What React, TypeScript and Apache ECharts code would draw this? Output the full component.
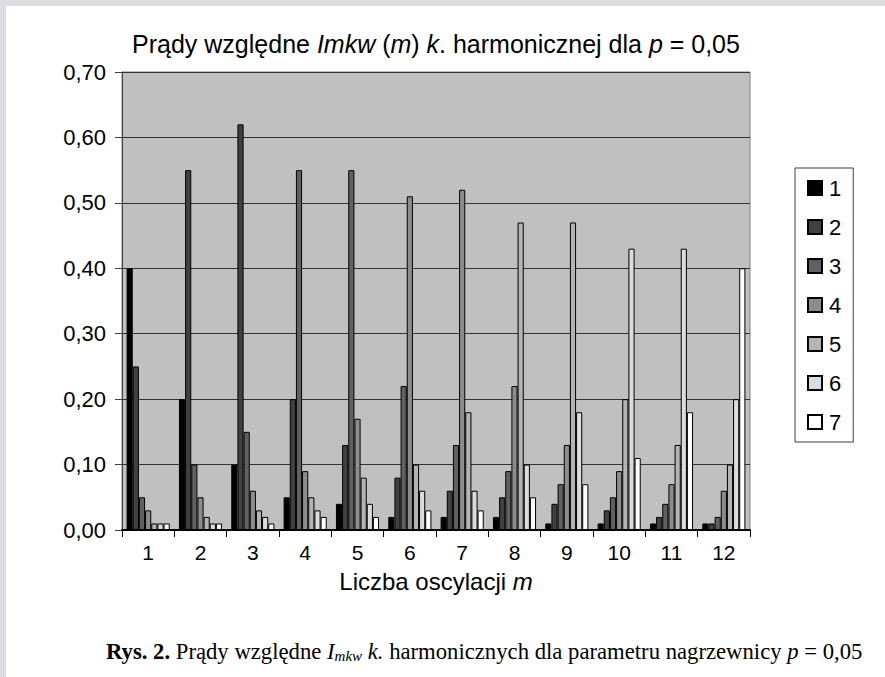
import React, { useEffect, useRef } from "react";
import * as echarts from "echarts";

const categories = ["1", "2", "3", "4", "5", "6", "7", "8", "9", "10", "11", "12"];
const seriesNames = ["1", "2", "3", "4", "5", "6", "7"];
const s1 = [0.40, 0.20, 0.10, 0.05, 0.04, 0.02, 0.02, 0.02, 0.01, 0.01, 0.01, 0.01];
const s2 = [0.25, 0.55, 0.62, 0.20, 0.13, 0.08, 0.06, 0.05, 0.04, 0.03, 0.02, 0.01];
const s3 = [0.05, 0.10, 0.15, 0.55, 0.55, 0.22, 0.13, 0.09, 0.07, 0.05, 0.04, 0.02];
const s4 = [0.03, 0.05, 0.06, 0.09, 0.17, 0.51, 0.52, 0.22, 0.13, 0.09, 0.07, 0.06];
const s5 = [0.01, 0.02, 0.03, 0.05, 0.08, 0.10, 0.18, 0.47, 0.47, 0.20, 0.13, 0.10];
const s6 = [0.01, 0.01, 0.02, 0.03, 0.04, 0.06, 0.06, 0.10, 0.18, 0.43, 0.43, 0.20];
const s7 = [0.01, 0.01, 0.01, 0.02, 0.02, 0.03, 0.03, 0.05, 0.07, 0.11, 0.18, 0.40];
const seriesValues = [s1, s2, s3, s4, s5, s6, s7];
const yTicks = [0, 0.1, 0.2, 0.3, 0.4, 0.5, 0.6, 0.7];
const barColors = ["#000000", "#404040", "#606060", "#8c8c8c", "#b4b4b4", "#dcdcdc", "#ffffff"];

const SANS = "'Liberation Sans', Arial, sans-serif";
const SERIF = "'Liberation Serif', 'Times New Roman', serif";

export default function App() {
  const ref = useRef<HTMLDivElement>(null);
  useEffect(() => {
    document.body.style.margin = "0";
    if (!ref.current) return;
    const chart = echarts.init(ref.current, undefined, { renderer: "svg" });
    chart.setOption({
      animation: false,
      backgroundColor: "#dcdde0",
      grid: {
        left: 122,
        top: 72,
        right: 135,
        bottom: 147,
        show: true,
        backgroundColor: "#c0c0c0",
        borderColor: "#808080",
        borderWidth: 1,
      },
      legend: {
        orient: "vertical",
        left: 795,
        top: 168,
        padding: [9, 12, 9, 12],
        borderColor: "#404040",
        borderWidth: 1,
        backgroundColor: "#ffffff",
        icon: "rect",
        itemWidth: 14,
        itemHeight: 14,
        itemGap: 17,
        data: seriesNames,
        textStyle: { fontFamily: SANS, fontSize: 22, color: "#000", lineHeight: 22, padding: [0, 0, 0, 2] },
      },
      graphic: [
        {
          type: "rect",
          z: -10,
          shape: { x: 6, y: 6, width: 885, height: 677 },
          style: { fill: "#ffffff" },
          silent: true,
        },
        {
          type: "text",
          x: 436,
          y: 44,
          style: {
            text: "Prądy względne {i|Imkw} ({i|m}) {i|k}. harmonicznej dla {i|p} = 0,05",
            font: `25px ${SANS}`,
            fill: "#000",
            align: "center",
            verticalAlign: "middle",
            rich: {
              i: { fontStyle: "italic", fontFamily: SANS, fontSize: 25, fill: "#000" },
            },
          },
        },
        {
          type: "text",
          x: 106,
          y: 651,
          style: {
            text: "{b|Rys. 2.} Prądy względne {i|I}{sub|mkw} {i|k.} harmonicznych dla parametru nagrzewnicy {i|p} = 0,05",
            font: `22.7px ${SERIF}`,
            fill: "#000",
            align: "left",
            verticalAlign: "middle",
            rich: {
              b: { fontWeight: "bold", fontFamily: SERIF, fontSize: 22.7, fill: "#000" },
              i: { fontStyle: "italic", fontFamily: SERIF, fontSize: 22.7, fill: "#000" },
              sub: { fontStyle: "italic", fontFamily: SERIF, fontSize: 15, fill: "#000", padding: [9, 0, 0, 0] },
            },
          },
        },
      ],
      xAxis: {
        type: "category",
        data: categories,
        name: "Liczba oscylacji {i|m}",
        nameLocation: "middle",
        nameGap: 39,
        nameTextStyle: {
          fontFamily: SANS,
          fontSize: 24,
          color: "#000",
          rich: { i: { fontStyle: "italic", fontFamily: SANS, fontSize: 24, color: "#000" } },
        },
        axisLine: { show: true, lineStyle: { color: "#000", width: 2 } },
        axisTick: { show: true, length: 7, lineStyle: { color: "#000" } },
        axisLabel: { fontFamily: SANS, fontSize: 21, color: "#000", margin: 12 },
      },
      yAxis: {
        type: "value",
        min: 0,
        max: 0.7,
        interval: 0.1,
        axisLine: { show: true, lineStyle: { color: "#404040", width: 1 } },
        axisTick: { show: true, length: 7, lineStyle: { color: "#404040" } },
        axisLabel: {
          fontFamily: SANS,
          fontSize: 22,
          color: "#000",
          margin: 16,
          formatter: (v: number) => {
            const t = yTicks.find((x) => Math.abs(x - v) < 1e-9);
            return (t !== undefined ? t : v).toFixed(2).replace(".", ",");
          },
        },
        splitLine: { show: true, lineStyle: { color: "#333333", width: 1 } },
      },
      series: seriesValues.map((vals, i) => ({
        name: seriesNames[i],
        type: "bar",
        data: vals,
        barGap: "0%",
        barCategoryGap: "17.6%",
        itemStyle: { color: barColors[i], borderColor: "#000", borderWidth: 1 },
      })),
    });
    return () => chart.dispose();
  }, []);
  return <div ref={ref} style={{ width: 885, height: 677 }} />;
}
